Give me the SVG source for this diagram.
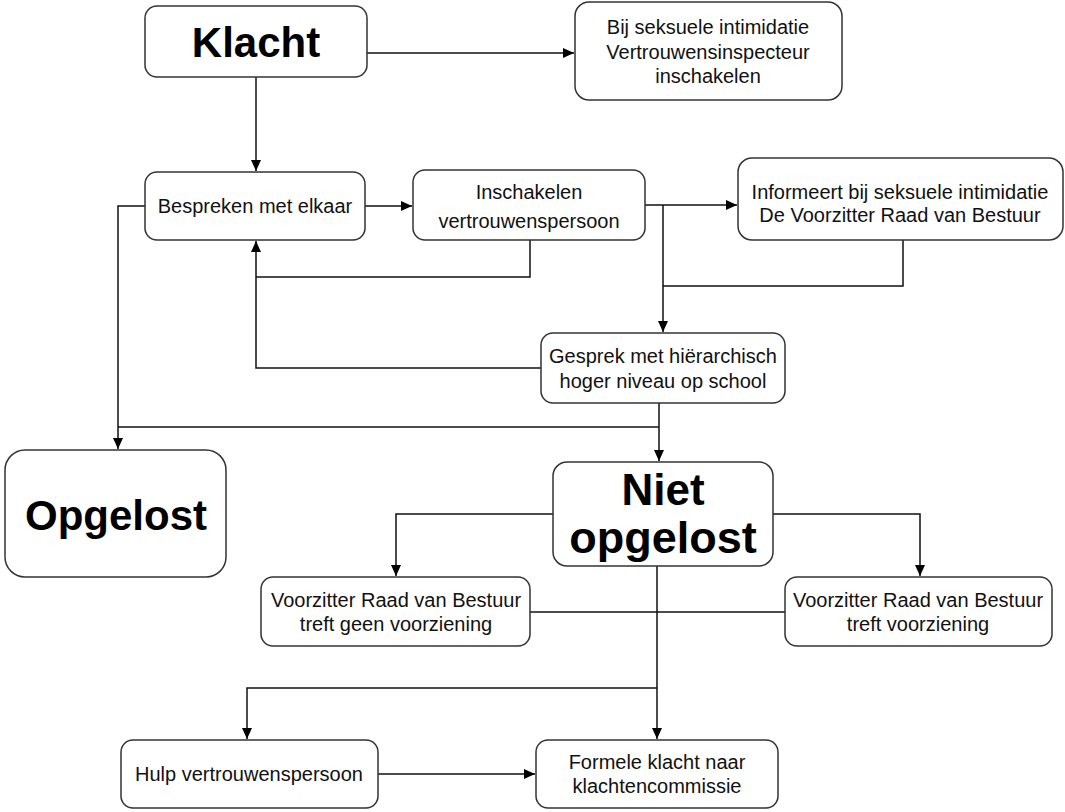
<svg xmlns="http://www.w3.org/2000/svg" width="1065" height="812" viewBox="0 0 1065 812">
<style>
.box{fill:#fff;stroke:#333;stroke-width:1.5}
.t{font-family:"Liberation Sans",Arial,sans-serif;font-size:20px;fill:#111;text-anchor:middle}
.b{font-family:"Liberation Sans",Arial,sans-serif;font-size:42px;font-weight:bold;fill:#000;text-anchor:middle}
.c{fill:none;stroke:#111;stroke-width:1.5}
</style>
<defs>
<marker id="a" markerWidth="12" markerHeight="10" refX="11" refY="5" orient="auto" markerUnits="userSpaceOnUse">
<path d="M0,0 L11,5 L0,10 Z" fill="#000"/>
</marker>
</defs>
<rect width="1065" height="812" fill="#fff"/>
<g id="connectors">
<path class="c" d="M367,53 H574" marker-end="url(#a)"/>
<path class="c" d="M256,77 V171" marker-end="url(#a)"/>
<path class="c" d="M365,206 H412" marker-end="url(#a)"/>
<path class="c" d="M645,205 H737" marker-end="url(#a)"/>
<path class="c" d="M663,205 V332" marker-end="url(#a)"/>
<path class="c" d="M903,240 V286 H663"/>
<path class="c" d="M530,240 V277 H256"/>
<path class="c" d="M541,368 H256 V241" marker-end="url(#a)"/>
<path class="c" d="M145,206 H118 V449" marker-end="url(#a)"/>
<path class="c" d="M118,427 H659"/>
<path class="c" d="M659,403 V461" marker-end="url(#a)"/>
<path class="c" d="M553,514 H396 V576" marker-end="url(#a)"/>
<path class="c" d="M773,514 H920 V576" marker-end="url(#a)"/>
<path class="c" d="M530,612 H785"/>
<path class="c" d="M657,566 V739" marker-end="url(#a)"/>
<path class="c" d="M657,688 H247 V739" marker-end="url(#a)"/>
<path class="c" d="M378,774 H535" marker-end="url(#a)"/>
</g>
<g id="klacht"><rect class="box" x="145" y="6" width="222" height="71" rx="12"/><text class="b" x="256" y="57">Klacht</text></g>
<g id="bij-seksuele"><rect class="box" x="575" y="2" width="267" height="98" rx="14"/>
<text class="t" x="708" y="34">Bij seksuele intimidatie</text><text class="t" x="708" y="59">Vertrouwensinspecteur</text><text class="t" x="708" y="83">inschakelen</text></g>
<g id="bespreken"><rect class="box" x="145" y="172" width="220" height="68" rx="12"/><text class="t" x="255" y="213">Bespreken met elkaar</text></g>
<g id="inschakelen"><rect class="box" x="413" y="170" width="232" height="70" rx="12"/><text class="t" x="529" y="199">Inschakelen</text><text class="t" x="529" y="228">vertrouwenspersoon</text></g>
<g id="informeert"><rect class="box" x="738" y="158" width="325" height="82" rx="14"/><text class="t" x="900" y="199">Informeert bij seksuele intimidatie</text><text class="t" x="900" y="222">De Voorzitter Raad van Bestuur</text></g>
<g id="gesprek"><rect class="box" x="541" y="333" width="244" height="70" rx="12"/><text class="t" x="663" y="363">Gesprek met hiërarchisch</text><text class="t" x="663" y="388">hoger niveau op school</text></g>
<g id="opgelost"><rect class="box" x="5" y="450" width="221" height="127" rx="20"/><text class="b" x="116" y="530">Opgelost</text></g>
<g id="niet-opgelost"><rect class="box" x="553" y="462" width="220" height="104" rx="14"/><text class="b" x="663" y="505" style="font-size:44px">Niet</text><text class="b" x="663" y="553" style="font-size:45px">opgelost</text></g>
<g id="voorzitter-geen"><rect class="box" x="261" y="577" width="269" height="69" rx="12"/><text class="t" x="396" y="607">Voorzitter Raad van Bestuur</text><text class="t" x="396" y="631">treft geen voorziening</text></g>
<g id="voorzitter-treft"><rect class="box" x="785" y="577" width="267" height="69" rx="12"/><text class="t" x="918" y="607">Voorzitter Raad van Bestuur</text><text class="t" x="918" y="631">treft voorziening</text></g>
<g id="hulp"><rect class="box" x="121" y="740" width="257" height="68" rx="12"/><text class="t" x="249" y="781">Hulp vertrouwenspersoon</text></g>
<g id="formele"><rect class="box" x="536" y="740" width="242" height="68" rx="12"/><text class="t" x="657" y="769">Formele klacht naar</text><text class="t" x="657" y="793">klachtencommissie</text></g>
</svg>
